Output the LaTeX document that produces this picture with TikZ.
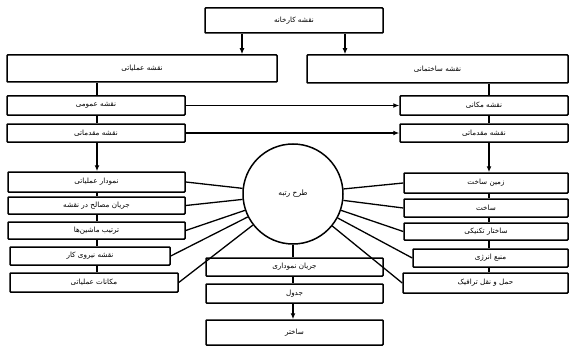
\documentclass[tikz,border=0pt]{standalone}
\usepackage{fontspec}
\newfontfamily\fa[Script=Arabic]{DejaVu Sans}
\TeXXeTstate=1
\usetikzlibrary{arrows.meta}
\begin{document}
\begin{tikzpicture}[x=1pt,y=-1pt,
  box/.style={draw, line width=1.5pt, rounded corners=0.8pt, inner sep=0pt, font=\fa\fontsize{7.2}{8}\selectfont},
  ln/.style={line width=1.3pt},
  arr/.style={line width=1.3pt, -{Latex[length=6pt,width=5pt]}}]
\useasboundingbox (0,0) rectangle (576,353);
\newcommand{\bx}[6]{\node[box, minimum width=#4-#2, minimum height=#5-#3] (#1) at ({(#2+#4)/2},{(#3+#5)/2}) {#6};}
\bx{top}{205}{8}{383}{33}{\beginR نقشه کارخانه\endR}
\bx{L1}{7}{55}{277}{82}{\beginR نقشه عملیاتی\endR}
\bx{R1}{307}{55}{568}{83}{\beginR نقشه ساختمانی\endR}
\bx{L2}{7}{96}{185}{115}{\beginR نقشه عمومی\endR}
\bx{L3}{7}{124}{185}{142}{\beginR نقشه مقدماتی\endR}
\bx{R2}{400}{96}{568}{115}{\beginR نقشه مکانی\endR}
\bx{R3}{400}{124}{568}{142}{\beginR نقشه مقدماتی\endR}
\bx{L4}{8}{172}{185}{192}{\beginR نمودار عملیاتی\endR}
\bx{L5}{8}{197}{185}{214}{\beginR جریان مصالح در نقشه\endR}
\bx{L6}{8}{222}{185}{239}{\beginR ترتیب ماشین‌ها\endR}
\bx{L7}{10}{247}{170}{265}{\beginR نقشه نیروی کار\endR}
\bx{L8}{10}{273}{178}{292}{\beginR مکانات عملیاتی\endR}
\bx{R4}{404}{173}{568}{193}{\beginR زمین ساخت\endR}
\bx{R5}{404}{199}{568}{217}{\beginR ساخت\endR}
\bx{R6}{404}{223}{568}{240}{\beginR ساختار تکنیکی\endR}
\bx{R7}{413}{249}{568}{267}{\beginR منبع انرژی\endR}
\bx{R8}{403}{273}{568}{293}{\beginR حمل و نقل ترافیک\endR}
\bx{A}{206}{258}{383}{276}{\beginR جریان نموداری\endR}
\bx{B}{206}{284}{383}{303}{\beginR جدول\endR}
\bx{Cc}{206}{320}{383}{345}{\beginR ساختر\endR}
\node[draw, circle, line width=1.5pt, minimum size=100pt, inner sep=0pt, font=\fa\fontsize{7.5}{8}\selectfont] (circ) at (293,194) {\beginR طرح رتبه\endR};
\coordinate (lv) at (97,0);
\coordinate (rv) at (489,0);
\coordinate (ta) at (242,0);
\coordinate (tb) at (345,0);
% top arrows
\draw[arr] (top.south -| ta) -- (L1.north -| ta);
\draw[arr] (top.south -| tb) -- (R1.north -| tb);
% left column
\draw[ln] (L1.south -| lv) -- (L2.north -| lv);
\draw[ln] (L2.south -| lv) -- (L3.north -| lv);
\draw[arr] (L3.south -| lv) -- (L4.north -| lv);
\draw[ln] (L4.south -| lv) -- (L5.north -| lv);
\draw[ln] (L5.south -| lv) -- (L6.north -| lv);
\draw[ln] (L6.south -| lv) -- (L7.north -| lv);
\draw[ln] (L7.south -| lv) -- (L8.north -| lv);
% right column
\draw[ln] (R1.south -| rv) -- (R2.north -| rv);
\draw[ln] (R2.south -| rv) -- (R3.north -| rv);
\draw[arr] (R3.south -| rv) -- (R4.north -| rv);
\draw[ln] (R4.south -| rv) -- (R5.north -| rv);
\draw[ln] (R5.south -| rv) -- (R6.north -| rv);
\draw[ln] (R6.south -| rv) -- (R7.north -| rv);
\draw[ln] (R7.south -| rv) -- (R8.north -| rv);
% cross links
\draw[arr] (L2.east) -- (R2.west);
\draw[arr] (L3.east) -- (R3.west);
% spokes
\foreach \n in {L4,L5,L6,L7,L8}{\draw[ln] (\n.east) -- (circ);}
\foreach \n in {R4,R5,R6,R7,R8}{\draw[ln] (\n.west) -- (circ);}
% bottom column
\draw[ln] (circ.south) -- (A.north -| circ.south);
\draw[ln] (A.south -| circ.south) -- (B.north -| circ.south);
\draw[arr] (B.south -| circ.south) -- (Cc.north -| circ.south);
\end{tikzpicture}
\end{document}
